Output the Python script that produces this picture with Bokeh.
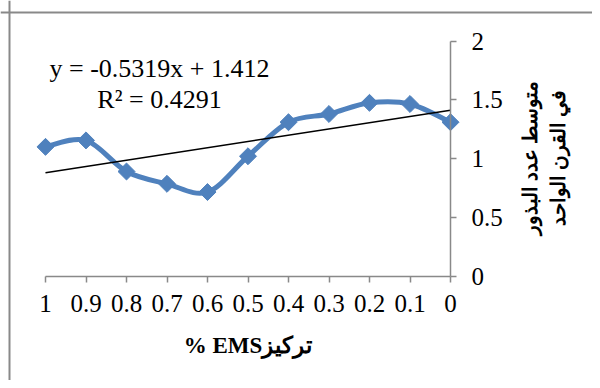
import numpy as np
from bokeh.plotting import figure
from bokeh.models import Range1d, FixedTicker, Label, ColumnDataSource, Span
from bokeh.embed import file_html
from bokeh.resources import INLINE

# ---- data ----
concentration = [1, 0.9, 0.8, 0.7, 0.6, 0.5, 0.4, 0.3, 0.2, 0.1, 0]
seeds_per_pod = [1.10, 1.155, 0.89, 0.785, 0.715, 1.02, 1.31, 1.38, 1.475, 1.465, 1.31]
x_tick_values = [1, 0.9, 0.8, 0.7, 0.6, 0.5, 0.4, 0.3, 0.2, 0.1, 0]
x_tick_labels = ["1", "0.9", "0.8", "0.7", "0.6", "0.5", "0.4", "0.3", "0.2", "0.1", "0"]
y_tick_values = [0, 0.5, 1, 1.5, 2]
y_tick_labels = ["0", "0.5", "1", "1.5", "2"]
trend_slope = -0.5319
trend_intercept = 1.412
r_squared = 0.4291
x_title = "% EMSتركيز"
y_title_lines = ["متوسط عدد البذور", "في القرن الواحد"]

SERIF = "Liberation Serif"
GRAY = "#898989"
BLUE = "#4F81BD"

# layout in pixels (image coordinates of the plotting area)
ORIGIN = 0                # image position of the canvas' top-left corner
W, H = 592, 380
PX_X1, PX_X0 = 45, 450    # image x of x=1 and x=0
PX_Y0, PX_Y2 = 275.5, 40.7  # image y of y=0 and y=2
xs_per_px = 1.0 / (PX_X0 - PX_X1)
ys_per_px = 2.0 / (PX_Y0 - PX_Y2)
x_start = 1 + (PX_X1 - ORIGIN) * xs_per_px
x_end = 0 - (ORIGIN + W - PX_X0) * xs_per_px
y_end = 2 + (PX_Y2 - ORIGIN) * ys_per_px
y_start = 0 - (ORIGIN + H - PX_Y0) * ys_per_px

def px_to_x(px):
    return 1 - (px - PX_X1) * xs_per_px

def px_to_y(py):
    return (PX_Y0 - py) * ys_per_px

p = figure(
    width=W, height=H,
    min_border=0, min_border_left=0, min_border_right=0, min_border_top=0, min_border_bottom=0,
    x_range=Range1d(x_start, x_end), y_range=Range1d(y_start, y_end),
    y_axis_location="right",
    output_backend="svg", toolbar_location=None,
)
p.outline_line_color = None
p.xgrid.visible = False
p.ygrid.visible = False
p.background_fill_color = "white"
p.border_fill_color = "white"

# chart-area border (top and left edges visible)
p.add_layout(Span(location=px_to_y(12), dimension="width", line_color=GRAY, line_width=2))
p.add_layout(Span(location=px_to_x(9), dimension="height", line_color=GRAY, line_width=2))

for ax in (p.xaxis, p.yaxis):
    ax.fixed_location = 0
    ax.axis_line_color = GRAY
    ax.axis_line_width = 1.5
    ax.major_tick_line_color = GRAY
    ax.major_tick_line_width = 1.5
    ax.major_tick_in = 0
    ax.major_tick_out = 6
    ax.minor_tick_line_color = None
    ax.major_label_text_font = SERIF
    ax.major_label_text_font_size = "25px"
    ax.major_label_text_color = "black"

p.xaxis.bounds = (0, 1)
p.xaxis.ticker = FixedTicker(ticks=x_tick_values)
p.xaxis.major_label_overrides = dict(zip(x_tick_values, x_tick_labels))
p.xaxis.major_label_standoff = 13

p.yaxis.bounds = (0, 2)
p.yaxis.ticker = FixedTicker(ticks=y_tick_values)
p.yaxis.major_label_overrides = dict(zip(y_tick_values, y_tick_labels))
p.yaxis.major_label_standoff = 15

# x-axis title
p.add_layout(Label(x=0.5, y=px_to_y(345), text=x_title,
                   text_align="center", text_baseline="middle",
                   text_font=SERIF, text_font_style="bold", text_font_size="23px",
                   text_color="black"))

# y-axis title (two rotated lines to the right of the axis)
for i, line in enumerate(y_title_lines):
    p.add_layout(Label(x=px_to_x(529 + 28 * i), y=px_to_y(157), text=line,
                       angle=np.pi / 2, text_align="center", text_baseline="middle",
                       text_font=SERIF, text_font_style="bold", text_font_size="20px",
                       text_color="black"))

# smoothed series line (Catmull-Rom -> cubic Bezier, like Excel smoothing)
xs = np.array(concentration, dtype=float)
ys = np.array(seeds_per_pod, dtype=float)
n = len(xs)
x0, y0, x1, y1, cx0, cy0, cx1, cy1 = ([] for _ in range(8))
for i in range(n - 1):
    ip = max(i - 1, 0)
    inx = min(i + 2, n - 1)
    x0.append(xs[i]); y0.append(ys[i]); x1.append(xs[i + 1]); y1.append(ys[i + 1])
    cx0.append(xs[i] + (xs[i + 1] - xs[ip]) / 6); cy0.append(ys[i] + (ys[i + 1] - ys[ip]) / 6)
    cx1.append(xs[i + 1] - (xs[inx] - xs[i]) / 6); cy1.append(ys[i + 1] - (ys[inx] - ys[i]) / 6)
p.bezier(x0=x0, y0=y0, x1=x1, y1=y1, cx0=cx0, cy0=cy0, cx1=cx1, cy1=cy1,
         line_color=BLUE, line_width=5)

# linear trendline
tx = [max(concentration), min(concentration)]
ty = [trend_intercept + trend_slope * v for v in tx]
p.line(tx, ty, line_color="black", line_width=1.5)

# markers
src = ColumnDataSource(dict(x=concentration, y=seeds_per_pod))
p.scatter("x", "y", source=src, marker="square", size=12, angle=np.pi / 4,
          fill_color=BLUE, line_color=BLUE)

# trendline equation
eq1 = "y = %.4fx + %.3f" % (trend_slope, trend_intercept)
eq2 = "R² = %.4f" % r_squared
p.add_layout(Label(x=px_to_x(159), y=px_to_y(68), text=eq1,
                   text_align="center", text_baseline="alphabetic",
                   text_font=SERIF, text_font_size="26px", text_color="black"))
p.add_layout(Label(x=px_to_x(159), y=px_to_y(99), text=eq2,
                   text_align="center", text_baseline="alphabetic",
                   text_font=SERIF, text_font_size="26px", text_color="black"))

open("out.html", "w").write(file_html(p, INLINE))
